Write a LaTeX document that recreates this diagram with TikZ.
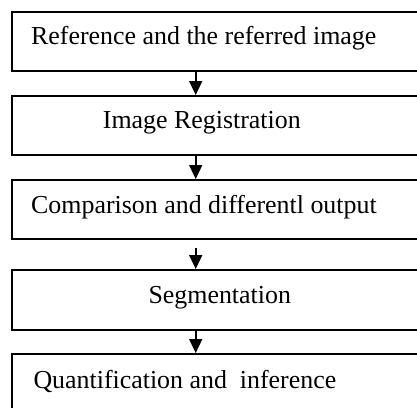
\documentclass[tikz,border=0pt]{standalone}
\usepackage{fontspec}
\setmainfont{Liberation Serif}
\usetikzlibrary{arrows.meta}
\begin{document}
\begin{tikzpicture}[x=1pt,y=-1pt,
  stepbox/.style={draw=black,line width=1.6pt,rectangle,inner sep=0pt,anchor=north west,minimum width=420pt},
  lbl/.style={anchor=base west,inner sep=0pt,font=\fontsize{25.9pt}{30pt}\selectfont},
  arr/.style={line width=1.7pt,-{Triangle[width=13pt,length=14pt]}}]
\useasboundingbox (0,0) rectangle (417,407);
\clip (0,0) rectangle (417,407);
\node[stepbox,minimum height=59pt] (b1) at (11,11) {};
\node[stepbox,minimum height=59pt] (b2) at (11,95) {};
\node[stepbox,minimum height=59pt] (b3) at (11,179) {};
\node[stepbox,minimum height=60pt] (b4) at (11,269) {};
\node[stepbox,minimum height=80pt] (b5) at (11,353) {};
\node[lbl] (t1) at (31,44.5) {Reference and the referred image};
\node[lbl] (t2) at (102.7,128.5) {Image Registration};
\node[lbl] (t3) at (31,213) {Comparison and differentl output};
\node[lbl] (t4) at (148.3,303) {Segmentation};
\node[lbl] (t5) at (33.3,388) {Quantification and\ \ inference};
\path (b1.south west) ++(184.7,0) coordinate (s1);
\path (b2.north west) ++(184.7,0) coordinate (e1);
\path (b2.south west) ++(184.7,0) coordinate (s2);
\path (b3.north west) ++(184.7,0) coordinate (e2);
\path (b3.south west) ++(184.7,8) coordinate (s3);
\path (b4.north west) ++(184.7,0) coordinate (e3);
\path (b4.south west) ++(184.7,0) coordinate (s4);
\path (b5.north west) ++(184.7,0) coordinate (e4);
\draw[arr] (s1) -- (e1);
\draw[arr] (s2) -- (e2);
\draw[arr] (s3) -- (e3);
\draw[arr] (s4) -- (e4);
\end{tikzpicture}
\end{document}
